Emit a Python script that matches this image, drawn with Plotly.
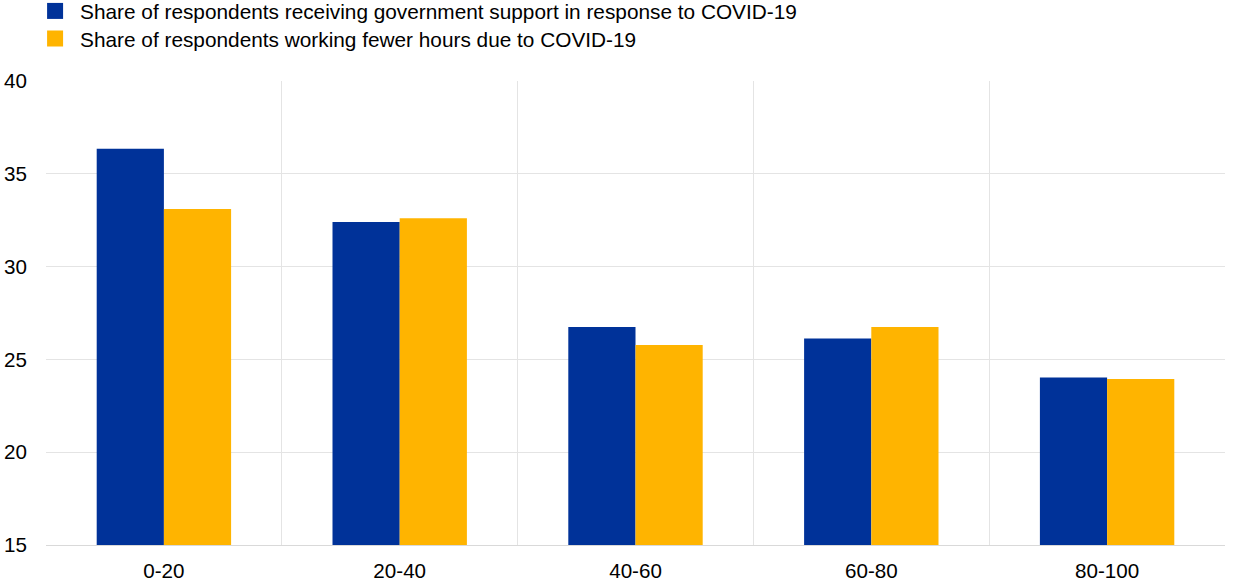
import plotly.graph_objects as go

categories = ["0-20", "20-40", "40-60", "60-80", "80-100"]
support = [36.35, 32.4, 26.75, 26.12, 24.02]
fewer_hours = [33.1, 32.6, 25.78, 26.75, 23.95]
series_names = [
    "Share of respondents receiving government support in response to COVID-19",
    "Share of respondents working fewer hours due to COVID-19",
]
colors = ["#003299", "#FFB400"]
yticks = [15, 20, 25, 30, 35, 40]

xpos = list(range(len(categories)))
boundaries = [i - 0.5 for i in range(len(categories) + 1)]

fig = go.Figure()
for vals, name, col in zip([support, fewer_hours], series_names, colors):
    fig.add_trace(go.Bar(x=xpos, y=vals, name=name, marker_color=col,
                         marker_line_width=0, showlegend=False))
# legend entries with larger square symbols, one legend per row
for name, col, lg in zip(series_names, colors, ["legend", "legend2"]):
    fig.add_trace(go.Scatter(x=[None], y=[None], mode="markers", name=name, legend=lg,
                             marker=dict(symbol="square", size=17, color=col)))
# invisible trace to activate xaxis2 for category-boundary gridlines
fig.add_trace(go.Scatter(x=boundaries, y=[None]*len(boundaries), xaxis="x2",
                         showlegend=False, hoverinfo="skip"))

font = dict(family="Liberation Sans, Arial, sans-serif", size=20.6, color="#000000")
legend_common = dict(x=-0.0135, xanchor="left", yanchor="middle", orientation="v",
                     font=dict(size=20.8, family=font["family"], color="#000000"),
                     bgcolor="rgba(0,0,0,0)", itemsizing="trace", itemwidth=40)
grid = "#e4e4e4"
fig.update_layout(
    width=1240, height=587,
    margin=dict(l=46, r=15, t=81, b=42, autoexpand=False),
    paper_bgcolor="white", plot_bgcolor="white",
    barmode="group", bargap=0.43, bargroupgap=0,
    font=font,
    legend=dict(y=1.1500, **legend_common),
    legend2=dict(y=1.0905, **legend_common),
    xaxis=dict(range=[-0.5, len(categories) - 0.5], tickvals=xpos, ticktext=categories,
               showgrid=False, zeroline=False, showline=True, linecolor="#d9d9d9",
               linewidth=1, ticks="", tickfont=font, automargin=False,
               ticklabelstandoff=7),
    xaxis2=dict(range=[-0.5, len(categories) - 0.5], overlaying="x", tickvals=boundaries,
                showticklabels=False, showgrid=True, gridcolor=grid, gridwidth=1,
                zeroline=False, showline=False, ticks="", automargin=False),
    yaxis=dict(range=[yticks[0], yticks[-1]], tickvals=yticks, showgrid=True,
               gridcolor=grid, gridwidth=1, zeroline=False, showline=False,
               ticks="", tickfont=font, ticklabelstandoff=18, automargin=False),
)

fig.write_html("out.html", config={"displayModeBar": False},
               post_script="document.body.style.margin='0';")
